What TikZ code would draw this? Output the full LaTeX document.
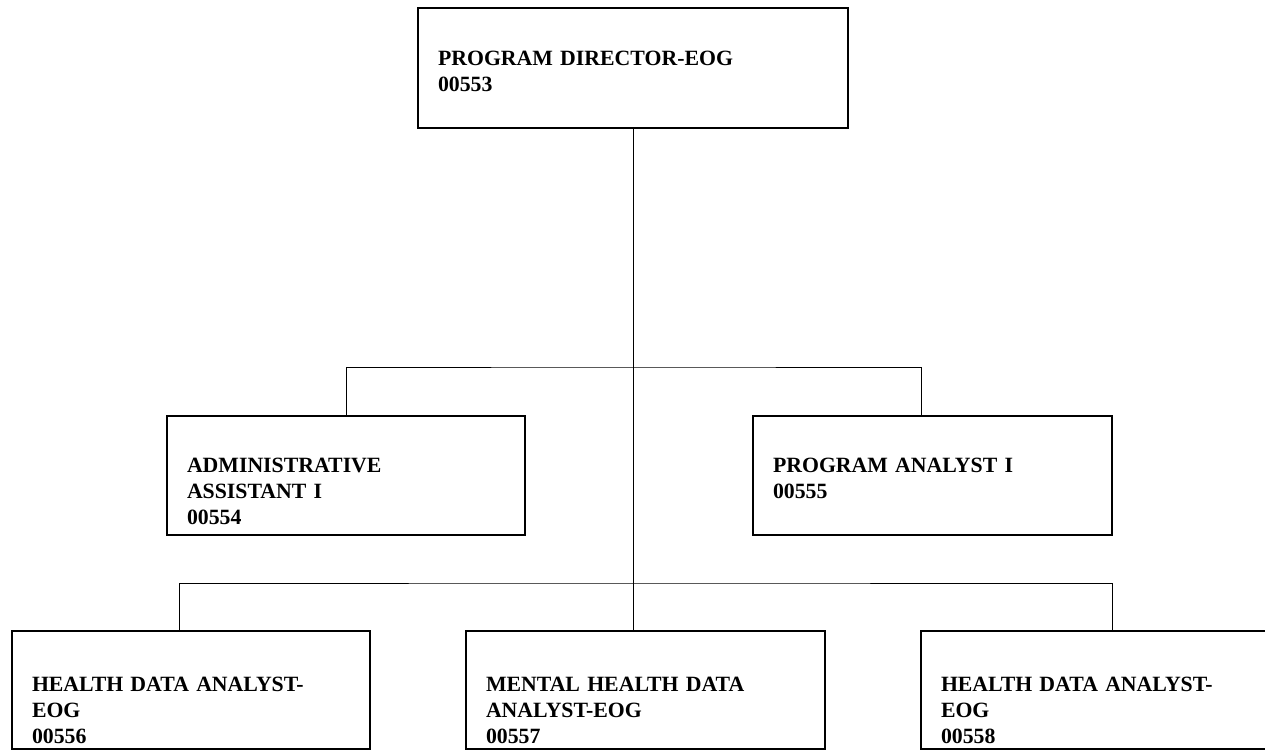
\documentclass[tikz,border=0pt]{standalone}
\usepackage{fontspec}
\setmainfont{Liberation Serif}
\usetikzlibrary{positioning, calc}

\begin{document}
\begin{tikzpicture}[
    post/.style={rectangle, draw=black, line width=0.9pt, inner xsep=0.4cm, inner ysep=0pt, align=left, text width=#1, text height=1.12cm, text depth=1.26cm, font=\fontsize{12.4}{14.8}\selectfont\bfseries},
    link/.style={draw=black, line width=0.5pt}
]
    \useasboundingbox (0,0) rectangle (25.3,-15);

    \node[post=7.8cm, text height=1.14cm] (dir) at (12.66,-1.36) {PROGRAM DIRECTOR-EOG\\00553};

    \node[post=6.36cm] (admin) at (6.92,-9.51) {ADMINISTRATIVE\\ASSISTANT I\\00554};
    \node[post=6.38cm] (analyst) at (18.65,-9.51) {PROGRAM ANALYST I\\00555};

    \node[post=6.36cm, text height=1.2cm, text depth=1.16cm] (hda1) at (3.82,-13.8) {HEALTH DATA ANALYST-\\EOG\\00556};
    \node[post=6.38cm, text height=1.2cm, text depth=1.16cm] (mhda) at (12.91,-13.8) {MENTAL HEALTH DATA\\ANALYST-EOG\\00557};
    \node[post=6.36cm, text height=1.2cm, text depth=1.16cm] (hda2) at (22.0,-13.8) {HEALTH DATA ANALYST-\\EOG\\00558};

    % bus lines
    \coordinate (busA) at (12.66,-7.34);
    \coordinate (busB) at (12.66,-11.66);
    \coordinate (tapA) at ($(analyst.north)+(-0.23,0)$);
    \coordinate (tapL) at ($(hda1.north)+(-0.24,0)$);
    \coordinate (tapR) at ($(hda2.north)+(0.24,0)$);

    \draw[link] (dir.south) -- (dir.south |- mhda.north);
    \draw[link] (admin.north) |- (busA) -| (tapA);
    \draw[link] (tapL) |- (busB) -| (tapR);
\end{tikzpicture}
\end{document}
